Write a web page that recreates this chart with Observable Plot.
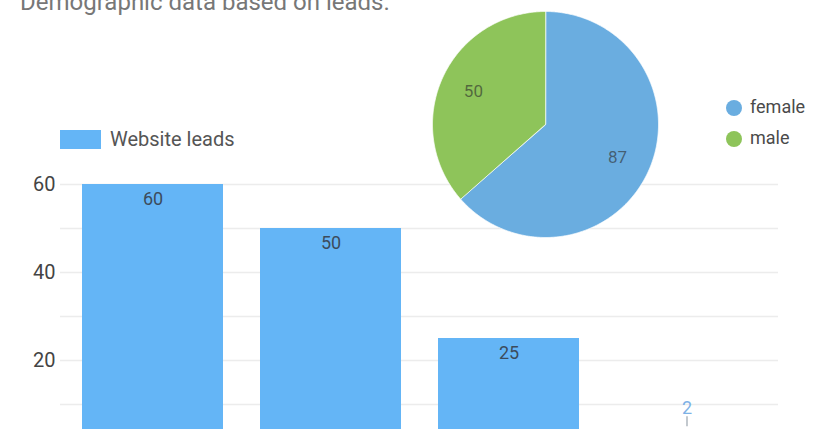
<!DOCTYPE html>
<html>
<head>
<meta charset="utf-8">
<script src="https://cdn.jsdelivr.net/npm/d3@7"></script>
<script src="https://cdn.jsdelivr.net/npm/@observablehq/plot@0.6"></script>
<style>
  html, body { margin: 0; padding: 0; background: #fff; }
  #wrap { position: relative; width: 813px; height: 429px; overflow: hidden; font-family: Roboto, "Noto Sans", sans-serif; }
  #title { position: absolute; left: 20px; top: -11px; font-size: 24px; line-height: 26px; color: #777; white-space: nowrap; }
  #bars, #pie { position: absolute; }
  #bars { left: 0; top: 0; }
  #pie { left: 425px; top: 4px; }
  .leg { position: absolute; font-size: 20px; color: #555; white-space: nowrap; }
</style>
</head>
<body>
<div id="wrap">
  <div id="title">Demographic data based on leads.</div>
  <div id="bars"></div>
  <div id="pie"></div>
  <div id="legends"></div>
</div>
<script>
// ---- data ----
const categories = ["Source 1", "Source 2", "Source 3", "Source 4"];
const leads = [60, 50, 25, 2];
const seriesName = "Website leads";
const yTickValues = [20, 40, 60];
const gridValues = [10, 20, 30, 40, 50, 60];
const genders = ["female", "male"];
const genderCounts = [87, 50];
const barColor = "#64b5f6";
const pieColors = ["#6aade0", "#8ec45a"];

// ---- bar chart ----
const barData = categories.map((c, i) => ({cat: c, value: leads[i]}));
const inside = barData.filter(d => d.value >= 10);
const outside = barData.filter(d => d.value < 10);

const bars = Plot.plot({
  width: 813,
  height: 429,
  marginLeft: 60,
  marginRight: 35,
  marginTop: 0,
  marginBottom: 0,
  style: {fontFamily: "Roboto, sans-serif", fontSize: "20px", color: "#444", overflow: "hidden", background: "transparent"},
  x: {domain: categories, paddingInner: 0.21, paddingOuter: 0.12, axis: null},
  y: {domain: [0, 60], range: [448, 184], ticks: yTickValues, tickSize: 0, tickPadding: 5, label: null},
  marks: [
    Plot.ruleY(gridValues, {stroke: "#ececec", strokeWidth: 1.5}),
    Plot.barY(barData, {x: "cat", y: "value", fill: barColor}),
    Plot.text(inside, {x: "cat", y: "value", text: d => String(d.value), dy: 15, fill: "#3c4c5c", fontSize: 18}),
    Plot.text(outside, {x: "cat", y: "value", text: d => String(d.value), dy: -31, fill: "#7db2e6", fontSize: 18}),
    Plot.ruleX(outside, {x: "cat", y1: "value", y2: "value", dy: -18, insetTop: -5, insetBottom: -5, stroke: "#9aa4ad", strokeWidth: 1.2})
  ]
});
document.getElementById("bars").append(bars);

// ---- pie chart ----
const pieInput = genders.map((g, i) => ({gender: g, count: genderCounts[i]}));
const arcs = d3.pie().sort(null).value(d => d.count)(pieInput);
const slicePts = [];
arcs.forEach(a => {
  slicePts.push({gender: a.data.gender, x: 0, y: 0});
  const n = Math.max(2, Math.ceil((a.endAngle - a.startAngle) / (Math.PI / 360)));
  for (let k = 0; k <= n; k++) {
    const t = a.startAngle + (a.endAngle - a.startAngle) * k / n;
    slicePts.push({gender: a.data.gender, x: Math.sin(t), y: Math.cos(t)});
  }
});
const labelR = 0.7;
const pie = Plot.plot({
  width: 240,
  height: 240,
  margin: 7,
  style: {background: "transparent", fontFamily: "Roboto, sans-serif", overflow: "visible"},
  x: {domain: [-1, 1], axis: null},
  y: {domain: [-1, 1], axis: null},
  color: {domain: genders, range: pieColors},
  marks: [
    Plot.line(slicePts, {x: "x", y: "y", z: "gender", fill: "gender", stroke: "#ffffff", strokeOpacity: 0.7, strokeWidth: 1, curve: "linear-closed"}),
    Plot.text(arcs, {
      x: d => labelR * Math.sin((d.startAngle + d.endAngle) / 2),
      y: d => labelR * Math.cos((d.startAngle + d.endAngle) / 2),
      text: d => String(d.data.count),
      fill: "#2a2a2a", fillOpacity: 0.6, fontSize: 17
    })
  ]
});
document.getElementById("pie").append(pie);

// ---- legends ----
const legends = document.getElementById("legends");
const sw = document.createElement("div");
Object.assign(sw.style, {position: "absolute", left: "60px", top: "130px", width: "41px", height: "19px", background: barColor});
legends.append(sw);
const st = document.createElement("div");
st.className = "leg";
Object.assign(st.style, {left: "110px", top: "127px", lineHeight: "24px"});
st.textContent = seriesName;
legends.append(st);

genders.forEach((g, i) => {
  const dot = document.createElement("div");
  Object.assign(dot.style, {position: "absolute", left: (734 - 8) + "px", top: (108 + i * 31 - 8) + "px", width: "16px", height: "16px", borderRadius: "50%", background: pieColors[i]});
  legends.append(dot);
  const t = document.createElement("div");
  t.className = "leg";
  Object.assign(t.style, {left: "750px", top: (108 + i * 31 - 12) + "px", lineHeight: "22px", fontSize: "18px", color: "#4a4a4a"});
  t.textContent = g;
  legends.append(t);
});
</script>
</body>
</html>
